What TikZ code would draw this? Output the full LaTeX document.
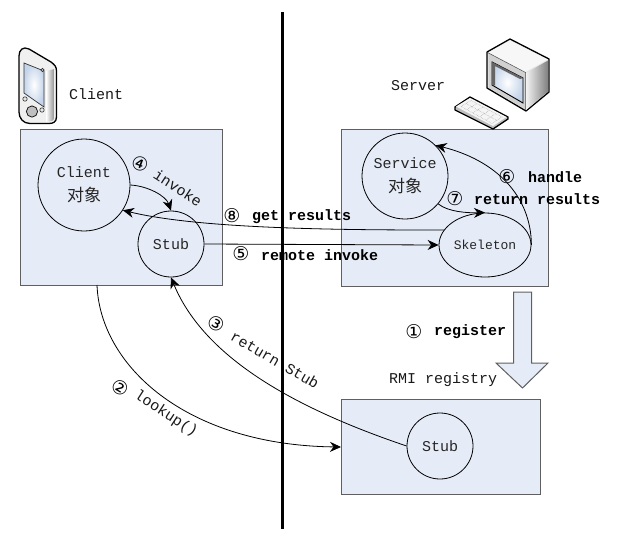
\documentclass[tikz,border=0pt]{standalone}
\usepackage{fontspec}
\setmainfont{Liberation Mono}
\newfontfamily\cjk{Noto Sans CJK SC}
\newfontfamily\numfont{DejaVu Sans}
\usetikzlibrary{arrows.meta,shapes.geometric,calc}
\definecolor{boxfill}{HTML}{E6ECF7}
\definecolor{boxline}{HTML}{5F5F5F}
\definecolor{screenblue}{HTML}{C4D4EA}
\newcommand{\objcn}{{\cjk\fontsize{17}{24}\selectfont 对象}}
\tikzset{
  zone/.style={draw=boxline,fill=boxfill,line width=1pt,inner sep=0pt,anchor=north west},
  obj/.style={draw=black,circle,inner sep=0pt,line width=.8pt,align=center,font=\fontsize{15}{24}\selectfont,text=black!85},
  conn/.style={draw=black,line width=.8pt,-{Stealth[length=11pt,width=10pt]}},
  lab/.style={font=\fontsize{15}{18}\selectfont,inner sep=0pt,anchor=west,text=black!90},
  blab/.style={font=\fontsize{15}{18}\selectfont\bfseries,inner sep=0pt,anchor=west},
  num/.style={font=\numfont\fontsize{19}{20}\selectfont,inner sep=0pt},
  iconline/.style={draw=black,line width=1.3pt,line join=round},
}
\begin{document}
\begin{tikzpicture}[x=1pt,y=-1pt]
\useasboundingbox (0,0) rectangle (617,544);
% boxes
\node[zone,minimum width=202pt,minimum height=156pt] (client) at (20,129) {};
\node[zone,minimum width=207pt,minimum height=157pt] (server) at (341,129) {};
\node[zone,minimum width=199pt,minimum height=95pt] (registry) at (341,399) {};
% divider
\coordinate (divtop) at (282,12);
\coordinate (divbot) at (282,529);
\draw[line width=3pt] (divtop) -- (divbot);
% objects
\node[obj,minimum size=92pt] (cobj) at (84,185) {Client\\\objcn};
\node[obj,minimum size=66pt] (cstub) at (171,244) {Stub};
\node[obj,minimum size=86pt] (sobj) at (405,176) {Service\\\objcn};
\node[obj,ellipse,minimum width=92pt,minimum height=64pt,font=\fontsize{13}{15}\selectfont] (skel) at (485,245) {Skeleton};
\node[obj,minimum size=66pt] (rstub) at (440,446) {Stub};
% block arrow
\draw[draw=boxline,fill=boxfill,line width=1pt,line join=miter]
  (513.5,292) -- (531.5,292) -- (531.5,363) -- (548,363) -- (522.5,388) -- (496,363) -- (513.5,363) -- cycle;
% connectors
\path[conn] (cobj.east) .. controls (148,186) and (166,196) .. (cstub.north);
\path[conn] (skel.160) .. controls (340,230) and (200,229) .. (cobj.-33);
\path[conn] (cstub.east) -- (skel.west);
\path[conn] (skel.east) .. controls (531,195) and (495,160) .. (sobj.45);
\path[conn] (sobj.-40) .. controls (448,212) and (468,213) .. (skel.north);
\coordinate (lookstart) at (97,285);
\path[conn] (lookstart) .. controls (100,365) and (185,445) .. (registry.west);
\path[conn] (rstub.west) .. controls (300,410) and (205,360) .. (cstub.south);
% plain labels
\node[lab] (clbl) at (69,94) {Client};
\node[lab] (slbl) at (391,86) {Server};
\node[lab] (rlbl) at (389,380) {RMI registry};
% step labels
\node[num,rotate=-20] (n4) at (140,164) {④};
\node[lab,rotate=-33,anchor=center] (l4) at (178,188) {invoke};
\node[num] (n8) at (232,216) {⑧};
\node[blab] (l8) at (252,217) {get results};
\node[num] (n5) at (241,254) {⑤};
\node[blab] (l5) at (261,255) {remote invoke};
\node[num] (n6) at (507,177) {⑥};
\node[blab] (l6) at (528,177) {handle};
\node[num] (n7) at (455,199) {⑦};
\node[blab] (l7) at (474,199) {return results};
\node[num] (n1) at (414,332) {①};
\node[blab] (l1) at (434,332) {register};
\node[num,rotate=-30] (n3) at (216,324) {③};
\node[lab,rotate=-30,anchor=center] (l3) at (275,360) {return Stub};
\node[num,rotate=-30] (n2) at (120,388) {②};
\node[lab,rotate=-33,anchor=center] (l2) at (166,414) {lookup()};
% phone icon
\draw[iconline,fill=white!94!black] (19,56) .. controls (19,50) and (23,46) .. (29,49) -- (51,62) .. controls (55,65) and (56.5,67) .. (56.5,71) -- (56.5,117) .. controls (56.5,122) and (53,123.5) .. (49,123.5) -- (30,123.5) .. controls (23,123.5) and (19,118) .. (19,112) -- cycle;
\shade[left color=white,right color=black!45] (46,71) -- (54.5,69) -- (54.5,118) .. controls (54.5,120) and (52,121.5) .. (49,121.5) -- (46,121.5) -- cycle;
\draw[draw=black!80,line width=.7pt,inner color=white,outer color=screenblue] (24,63) -- (44,71) -- (44,107) -- (24,93) -- cycle;
\draw[black!80,fill=black!15,line width=.6pt] (42.5,70) circle (1.6);
\draw[black!80,fill=black!10,line width=.6pt] (25,99) circle (2.2);
\draw[black!80,fill=black!10,line width=.6pt] (42,110) circle (2.2);
\draw[black!90,fill=black!25,line width=.8pt] (32,111.5) circle (5.6);
% computer icon
\draw[iconline,fill=white!90!black] (487,52) -- (510,39) -- (549,59) -- (549,92) -- (526,111) -- (487,88) -- cycle;
\fill[white!97!black] (488.5,52.5) -- (510,40.5) -- (547.5,59.5) -- (525.5,72) -- cycle;
\shade[left color=white!95!black,right color=black!50] (526,73) -- (548,60.5) -- (548,91.5) -- (526,110) -- cycle;
\fill[black!18] (488.5,53) -- (525,73) -- (525,109) -- (488.5,87.5) -- cycle;
\draw[black!70,line width=.5pt] (487.5,52.5) -- (525.5,72.5) -- (525.5,110);
\draw[black,line width=.9pt,inner color=white,outer color=screenblue] (492,62) -- (523,78) -- (523,103) -- (492,85) -- cycle;
\fill[black!60] (492,62) -- (523,78) -- (520,79) -- (495,66) -- (495,85.5) -- (492,85) -- cycle;
\draw[iconline,fill=black!25] (455,107) -- (470,97) -- (508,117) -- (508,119) -- (493,129) -- (455,110) -- cycle;
\fill[white!96!black] (456,106.5) -- (470,98) -- (506.5,117) -- (493,126) -- cycle;
\draw[black!35,line width=.5pt,densely dotted] (461,106.5) -- (471,100.5) -- (502,117) -- (492,123.5) -- cycle;
\draw[black!35,line width=.5pt,densely dotted] (467,109.5) -- (477,103.5) (473,112.5) -- (483,107) (480,116.5) -- (490,110) (486,120) -- (496,113.5) (466,103.5) -- (497,120.5);
\end{tikzpicture}
\end{document}
